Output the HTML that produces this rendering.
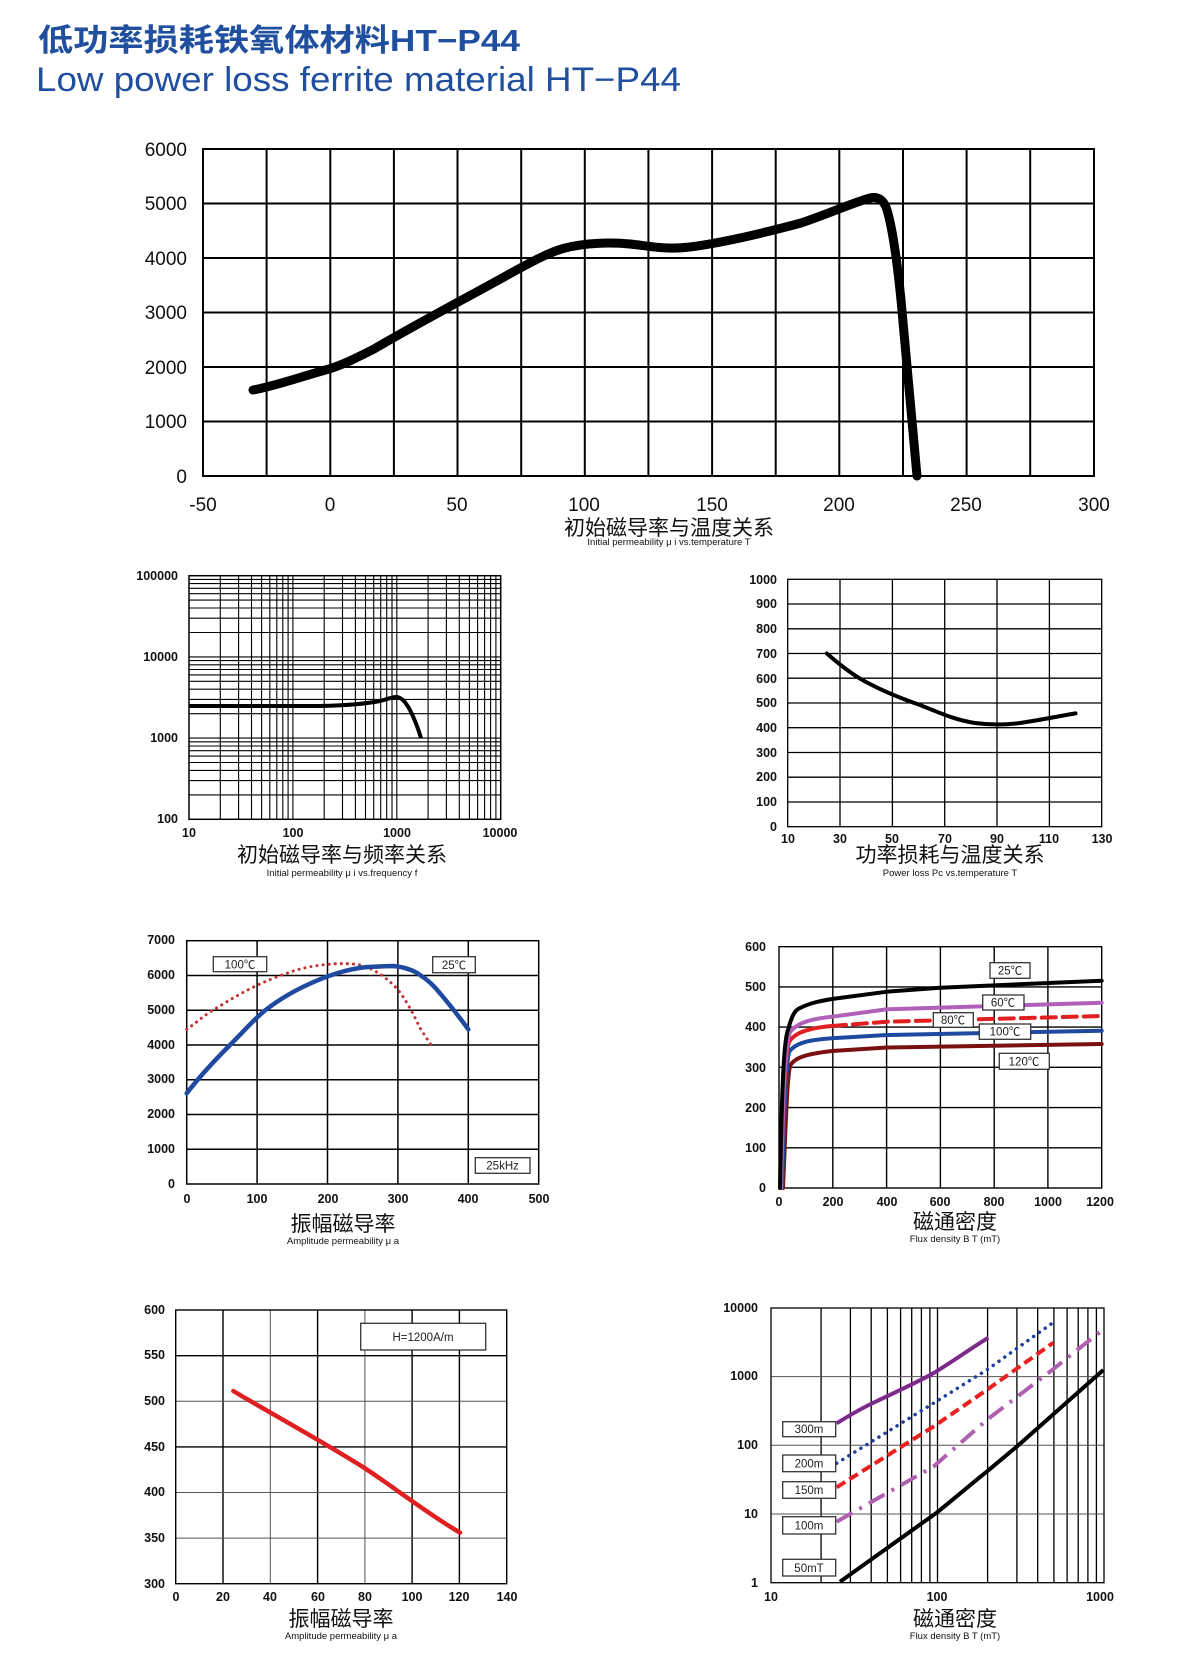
<!DOCTYPE html>
<html><head><meta charset="utf-8"><style>
html,body{margin:0;padding:0;background:#fff;width:1200px;height:1679px;overflow:hidden}
svg{display:block}
text{font-family:"Liberation Sans","Noto Sans CJK SC",sans-serif;fill:#111}
.t{font-size:12.5px;font-weight:bold;fill:#222}
.big{font-size:19px}
.cn{font-size:21px}
.sub{font-size:9.5px}
.box{fill:#fff;stroke:#333;stroke-width:1.3}
.lb{font-size:11.5px;fill:#222}
</style></head><body>
<svg width="1200" height="1679" viewBox="0 0 1200 1679" xmlns="http://www.w3.org/2000/svg">
<text x="38" y="51" font-size="31" font-weight="bold" style="fill:#1f4f9e" textLength="482" lengthAdjust="spacingAndGlyphs">低功率损耗铁氧体材料HT−P44</text>
<text x="36" y="91" font-size="34" style="fill:#1f4f9e" textLength="645" lengthAdjust="spacingAndGlyphs">Low power loss ferrite material HT−P44</text>

<!-- Chart 1 -->
<g stroke="#000" stroke-width="2" fill="none">
<path d="M266.6 149V476M330.3 149V476M393.9 149V476M457.5 149V476M521.2 149V476M584.8 149V476M648.4 149V476M712.1 149V476M775.7 149V476M839.3 149V476M903 149V476M966.6 149V476M1030.2 149V476"/>
<path d="M203 203.5H1094M203 258H1094M203 312.5H1094M203 367H1094M203 421.5H1094"/>
<rect x="203" y="149" width="891" height="327"/>
</g>
<path d="M253 390 C275 386 300 377 329 369 C345 364 358 357 374 349 C420 322 470 296 513 272 C535 260 550 252 565 248 C585 243 610 242 630 244 C650 246 665 250 690 247 C720 243 760 234 801 223 C830 213 855 202 870 198 C878 196 884 200 887 210 C893 230 898 270 901 300 C905 340 910 400 917 476" fill="none" stroke="#000" stroke-width="9" stroke-linejoin="round" stroke-linecap="round"/>
<g class="big" text-anchor="end">
<text x="187" y="156">6000</text><text x="187" y="210">5000</text><text x="187" y="265">4000</text><text x="187" y="319">3000</text><text x="187" y="374">2000</text><text x="187" y="428">1000</text><text x="187" y="483">0</text>
</g>
<g class="big" text-anchor="middle">
<text x="203" y="511">-50</text><text x="330" y="511">0</text><text x="457" y="511">50</text><text x="584" y="511">100</text><text x="712" y="511">150</text><text x="839" y="511">200</text><text x="966" y="511">250</text><text x="1094" y="511">300</text>
</g>
<text x="669" y="535" class="cn" text-anchor="middle">初始磁导率与温度关系</text>
<text x="669" y="545" class="sub" text-anchor="middle">Initial permeability  μ i vs.temperature T</text>

<!-- Chart 2 log -->
<g stroke="#000" stroke-width="1.1" fill="none">
<path d="M220.3 576V819M238.6 576V819M251.5 576V819M261.6 576V819M269.8 576V819M276.8 576V819M282.8 576V819M288.1 576V819M292.9 576V819M324.2 576V819M342.5 576V819M355.4 576V819M365.5 576V819M373.7 576V819M380.7 576V819M386.7 576V819M392 576V819M396.8 576V819M428.1 576V819M446.4 576V819M459.3 576V819M469.4 576V819M477.6 576V819M484.6 576V819M490.6 576V819M495.9 576V819"/>
<path d="M189 794.9H501M189 780.6H501M189 770.4H501M189 762.5H501M189 756.1H501M189 750.7H501M189 746H501M189 741.8H501M189 738.1H501M189 713.7H501M189 699.4H501M189 689.2H501M189 681.3H501M189 674.9H501M189 669.5H501M189 664.8H501M189 660.6H501M189 656.9H501M189 632.5H501M189 618.2H501M189 608H501M189 600.1H501M189 593.7H501M189 588.3H501M189 583.6H501M189 579.4H501"/>
<rect x="189" y="575.7" width="311.7" height="243.6" stroke-width="1.5"/>
</g>
<path d="M189 706 L320 706 C345 705.5 365 704 380 701 C388 699 392 697 396 697 C402 697 406 703 410 710 C414 718 418 728 421 738" fill="none" stroke="#000" stroke-width="4" stroke-linejoin="round"/>
<g class="t" text-anchor="end" font-size="11">
<text x="178" y="580">100000</text><text x="178" y="661">10000</text><text x="178" y="742">1000</text><text x="178" y="823">100</text>
</g>
<g class="t" text-anchor="middle">
<text x="189" y="837">10</text><text x="293" y="837">100</text><text x="397" y="837">1000</text><text x="500" y="837">10000</text>
</g>
<text x="342" y="862" class="cn" text-anchor="middle">初始磁导率与频率关系</text>
<text x="342" y="876" class="sub" text-anchor="middle">Initial permeability  μ i vs.frequency f</text>

<!-- Chart 3 power loss -->
<g stroke="#000" stroke-width="1.3" fill="none">
<path d="M840 579V827M892.4 579V827M944.7 579V827M997 579V827M1049.4 579V827"/>
<path d="M788 604H1102M788 628.8H1102M788 653.5H1102M788 678.2H1102M788 703H1102M788 727.7H1102M788 752.5H1102M788 777.2H1102M788 802H1102"/>
<rect x="787.7" y="579.3" width="314" height="247.4"/>
</g>
<path d="M826.9 653.5 C840 665 855 677 870 684 C885 692 900 698 920 705 C940 713 955 720 975 723 C990 725 1005 725 1020 723 C1040 720 1060 716 1075.5 713.4" fill="none" stroke="#000" stroke-width="4" stroke-linecap="round"/>
<g class="t" text-anchor="end" font-size="11.5">
<text x="777" y="584">1000</text><text x="777" y="608">900</text><text x="777" y="633">800</text><text x="777" y="658">700</text><text x="777" y="683">600</text><text x="777" y="707">500</text><text x="777" y="732">400</text><text x="777" y="757">300</text><text x="777" y="781">200</text><text x="777" y="806">100</text><text x="777" y="831">0</text>
</g>
<g class="t" text-anchor="middle" font-size="11.5">
<text x="788" y="843">10</text><text x="840" y="843">30</text><text x="892" y="843">50</text><text x="945" y="843">70</text><text x="997" y="843">90</text><text x="1049" y="843">110</text><text x="1102" y="843">130</text>
</g>
<text x="950" y="862" class="cn" text-anchor="middle">功率损耗与温度关系</text>
<text x="950" y="876" class="sub" text-anchor="middle">Power loss Pc vs.temperature T</text>

<!-- Chart 4 -->
<g stroke="#000" stroke-width="1.5" fill="none">
<path d="M257.1 941V1184M327.5 941V1184M397.9 941V1184M468.3 941V1184"/>
<path d="M187 1149.2H539M187 1114.5H539M187 1079.7H539M187 1045H539M187 1010.2H539M187 975.5H539"/>
<rect x="186.7" y="940.7" width="352" height="243.3"/>
</g>
<path d="M186.7 1029.3 C195 1024 205 1014 220 1006 C245 990 270 978 300 969 C320 964 345 962 360 965 C372 968 385 976 396.7 988.3 C405 998 413 1013 420 1028 L431.7 1046" fill="none" stroke="#c03030" stroke-width="3" stroke-dasharray="0.1 6" stroke-linecap="round"/>
<path d="M186.7 1093.3 C200 1076 215 1060 230 1045 C245 1030 258 1015 270 1006.7 C290 992 310 983 326.7 976.7 C345 970 360 967 373.3 966.7 L393.3 966 C405 967 415 971 420 975 C428 980 435 987 440 993.3 C450 1005 460 1018 468.3 1029.3" fill="none" stroke="#1f4aa0" stroke-width="4.5" stroke-linecap="round"/>
<rect x="213.3" y="956.7" width="53.4" height="15" class="box"/><text x="240" y="968.5" class="lb" text-anchor="middle">100℃</text>
<rect x="432.7" y="956.7" width="42.6" height="16" class="box"/><text x="454" y="969" class="lb" text-anchor="middle">25℃</text>
<rect x="475.3" y="1157.7" width="54.7" height="15.6" class="box"/><text x="502.6" y="1169.5" class="lb" text-anchor="middle">25kHz</text>
<g class="t" text-anchor="end">
<text x="175" y="944">7000</text><text x="175" y="979">6000</text><text x="175" y="1014">5000</text><text x="175" y="1049">4000</text><text x="175" y="1083">3000</text><text x="175" y="1118">2000</text><text x="175" y="1153">1000</text><text x="175" y="1188">0</text>
</g>
<g class="t" text-anchor="middle">
<text x="187" y="1203">0</text><text x="257" y="1203">100</text><text x="328" y="1203">200</text><text x="398" y="1203">300</text><text x="468" y="1203">400</text><text x="539" y="1203">500</text>
</g>
<text x="343" y="1231" class="cn" text-anchor="middle">振幅磁导率</text>
<text x="343" y="1244" class="sub" font-size="8.5" text-anchor="middle">Amplitude permeability  μ a</text>

<!-- Chart 5 BH -->
<g stroke="#000" stroke-width="1.4" fill="none">
<path d="M832.8 947V1188M886.6 947V1188M940.4 947V1188M994.2 947V1188M1047.9 947V1188"/>
<path d="M779 1147.8H1102M779 1107.6H1102M779 1067.3H1102M779 1027.1H1102M779 986.9H1102"/>
<rect x="779" y="946.7" width="322.7" height="241.3"/>
</g>
<g fill="none" stroke-width="4" stroke-linecap="round">
<path d="M783 1188 C786 1120 787 1080 790 1066 C794 1058 805 1054 832 1051 L887 1047.5 L1101.7 1044" stroke="#7a1010"/>
<path d="M782 1188 C784 1110 786 1065 789 1052 C795 1043 808 1040 832 1038.3 L887 1035 L1101.7 1030.7" stroke="#1f4aa0"/>
<path d="M781 1188 C783 1100 785 1055 789 1042 C795 1032 810 1028 832 1026" stroke="#e02020"/>
<path d="M832 1026 L887 1021.7 L1101.7 1016" stroke="#e02020" stroke-dasharray="14 7"/>
<path d="M781 1188 C783 1090 785 1045 790 1032 C798 1022 812 1019 832 1016.7 L887 1009.3 L1101.7 1002.7" stroke="#b060b8"/>
<path d="M780 1188 C782 1080 784 1040 788 1030 C792 1015 795 1010 800 1008 C810 1003 820 1001 832 999 L887 991.7 L940 987.7 L1101.7 980.7" stroke="#000"/>
</g>
<rect x="990" y="962.7" width="40" height="15.6" class="box"/><text x="1010" y="974.5" class="lb" text-anchor="middle">25℃</text>
<rect x="982.7" y="995" width="41.3" height="15" class="box"/><text x="1003" y="1006.5" class="lb" text-anchor="middle">60℃</text>
<rect x="933.3" y="1012.7" width="40" height="14.6" class="box"/><text x="953" y="1024" class="lb" text-anchor="middle">80℃</text>
<rect x="979.3" y="1024" width="51.4" height="15.3" class="box"/><text x="1005" y="1035.5" class="lb" text-anchor="middle">100℃</text>
<rect x="999.3" y="1053.3" width="50" height="16" class="box"/><text x="1024" y="1065.5" class="lb" text-anchor="middle">120℃</text>
<g class="t" text-anchor="end">
<text x="766" y="951">600</text><text x="766" y="991">500</text><text x="766" y="1031">400</text><text x="766" y="1072">300</text><text x="766" y="1112">200</text><text x="766" y="1152">100</text><text x="766" y="1192">0</text>
</g>
<g class="t" text-anchor="middle">
<text x="779" y="1206">0</text><text x="833" y="1206">200</text><text x="887" y="1206">400</text><text x="940" y="1206">600</text><text x="994" y="1206">800</text><text x="1048" y="1206">1000</text><text x="1100" y="1206">1200</text>
</g>
<text x="955" y="1229" class="cn" text-anchor="middle">磁通密度</text>
<text x="955" y="1242" class="sub" font-size="8.5" text-anchor="middle">Flux density B T (mT)</text>

<!-- Chart 6 -->
<g fill="none" stroke-width="1.4">
<path d="M223 1310V1584M317.6 1310V1584M412.1 1310V1584M459.4 1310V1584" stroke="#000"/>
<path d="M270.3 1310V1584M364.9 1310V1584" stroke="#555" stroke-width="1"/>
<path d="M176 1355.7H507M176 1446.9H507" stroke="#000"/>
<path d="M176 1401.3H507M176 1492.5H507M176 1538.1H507" stroke="#555" stroke-width="1"/>
<rect x="175.7" y="1310" width="331" height="273.7" stroke="#000"/>
</g>
<path d="M233.3 1391 C270 1413 320 1440 365 1468.3 C395 1488 425 1512 460 1532.7" fill="none" stroke="#e02020" stroke-width="4.5" stroke-linecap="round"/>
<rect x="360.7" y="1323.3" width="125" height="26.7" class="box"/><text x="423" y="1341" class="lb" font-size="12.5" text-anchor="middle">H=1200A/m</text>
<g class="t" text-anchor="end">
<text x="165" y="1314">600</text><text x="165" y="1359">550</text><text x="165" y="1405">500</text><text x="165" y="1451">450</text><text x="165" y="1496">400</text><text x="165" y="1542">350</text><text x="165" y="1588">300</text>
</g>
<g class="t" text-anchor="middle">
<text x="176" y="1601">0</text><text x="223" y="1601">20</text><text x="270" y="1601">40</text><text x="318" y="1601">60</text><text x="365" y="1601">80</text><text x="412" y="1601">100</text><text x="459" y="1601">120</text><text x="507" y="1601">140</text>
</g>
<text x="341" y="1626" class="cn" text-anchor="middle">振幅磁导率</text>
<text x="341" y="1639" class="sub" font-size="8.5" text-anchor="middle">Amplitude permeability  μ a</text>

<!-- Chart 7 log-log -->
<g fill="none" stroke="#000" stroke-width="1.3">
<path d="M821.1 1308V1583M850.4 1308V1583M871.2 1308V1583M887.4 1308V1583M900.6 1308V1583M911.7 1308V1583M921.4 1308V1583M929.9 1308V1583M937.5 1308V1583M987.6 1308V1583M1016.9 1308V1583M1037.7 1308V1583M1053.9 1308V1583M1067.1 1308V1583M1078.2 1308V1583M1087.9 1308V1583M1096.4 1308V1583"/>
<path d="M771 1514H1104M771 1445.3H1104M771 1376.6H1104" stroke="#555" stroke-width="1"/>
<rect x="771" y="1308" width="333" height="274.7"/>
</g>
<g fill="none" stroke-width="4">
<path d="M836.7 1423.3 C850 1415 860 1409 875 1402 C900 1390 918 1382 933.3 1373.3 C955 1360 970 1349 988.3 1337.7" stroke="#7b2a8c"/>
<path d="M836.7 1463.3 L933.3 1403.3 L986.7 1370 L1054.3 1321.7" stroke="#1f3f9f" stroke-width="3.5" stroke-dasharray="0.1 7" stroke-linecap="round"/>
<path d="M836.7 1487.3 L933.3 1426.7 L986.7 1390 L1053.3 1342.7" stroke="#e82020" stroke-dasharray="10 5"/>
<path d="M836.7 1521.7 L933.3 1466.7 L986.7 1420 L1050 1371.7 L1103.3 1329.3" stroke="#b060b0" stroke-dasharray="18 8 3 8"/>
<path d="M840 1581.7 L936.7 1512.7 C955 1498 970 1485 986.7 1471.7 L1016.7 1446.7 L1103.3 1370" stroke="#000"/>
</g>
<rect x="782.7" y="1421.7" width="53" height="15" class="box"/><text x="809" y="1433" class="lb" text-anchor="middle">300m</text>
<rect x="782.7" y="1455" width="53" height="16.7" class="box"/><text x="809" y="1467.5" class="lb" text-anchor="middle">200m</text>
<rect x="782.7" y="1481.7" width="53" height="16.6" class="box"/><text x="809" y="1494" class="lb" text-anchor="middle">150m</text>
<rect x="782.7" y="1516.7" width="53" height="17.3" class="box"/><text x="809" y="1529.5" class="lb" text-anchor="middle">100m</text>
<rect x="782.7" y="1559.3" width="53" height="16.7" class="box"/><text x="809" y="1572" class="lb" text-anchor="middle">50mT</text>
<g class="t" text-anchor="end">
<text x="758" y="1312">10000</text><text x="758" y="1380">1000</text><text x="758" y="1449">100</text><text x="758" y="1518">10</text><text x="758" y="1587">1</text>
</g>
<g class="t" text-anchor="middle">
<text x="771" y="1601">10</text><text x="937" y="1601">100</text><text x="1100" y="1601">1000</text>
</g>
<text x="955" y="1626" class="cn" text-anchor="middle">磁通密度</text>
<text x="955" y="1639" class="sub" font-size="8.5" text-anchor="middle">Flux density B T (mT)</text>
</svg>
</body></html>
